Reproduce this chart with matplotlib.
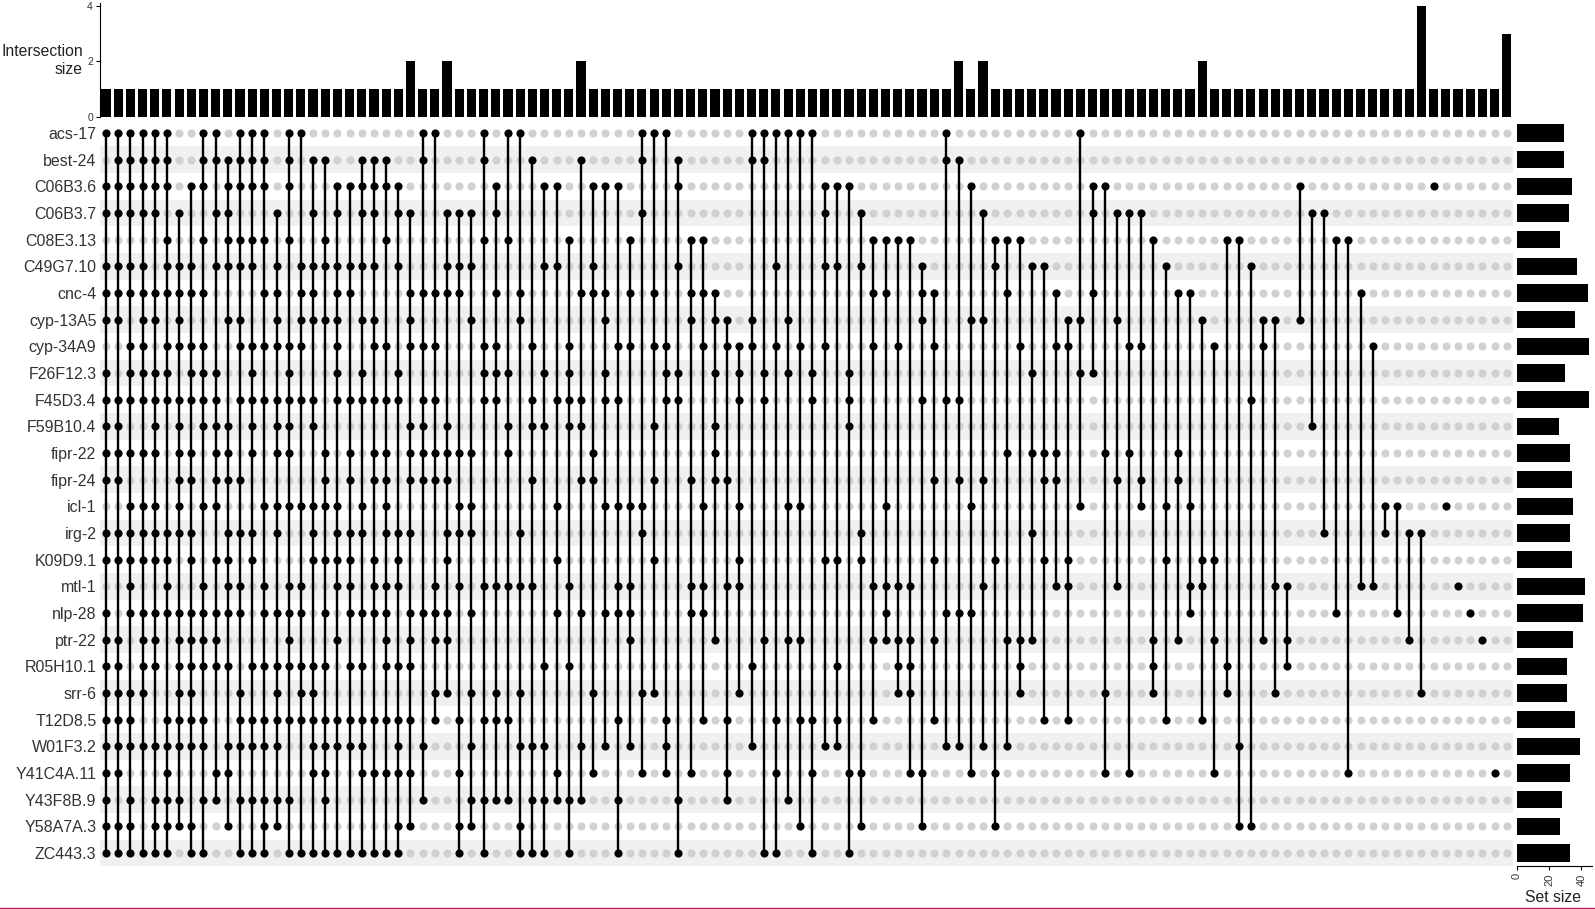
import matplotlib.pyplot as plt
from matplotlib.lines import Line2D
import numpy as np

plt.rcParams['font.family'] = ['Liberation Sans', 'DejaVu Sans']

sets = ["acs-17", "best-24", "C06B3.6", "C06B3.7", "C08E3.13", "C49G7.10", "cnc-4",
        "cyp-13A5", "cyp-34A9", "F26F12.3", "F45D3.4", "F59B10.4", "fipr-22", "fipr-24",
        "icl-1", "irg-2", "K09D9.1", "mtl-1", "nlp-28", "ptr-22", "R05H10.1", "srr-6",
        "T12D8.5", "W01F3.2", "Y41C4A.11", "Y43F8B.9", "Y58A7A.3", "ZC443.3"]
set_sizes = [29, 29, 34, 32, 27, 37, 44, 36, 45, 30, 45, 26, 33, 34, 35, 33, 34, 42,
             41, 35, 31, 31, 36, 39, 33, 28, 27, 33]

# intersection sizes, left to right
inter_sizes = [1] * 25 + [2, 1, 1, 2] + [1] * 10 + [2] + [1] * 30 + [2, 1, 2] \
    + [1] * 17 + [2] + [1] * 17 + [4] + [1] * 6 + [3]

# set indices (rows) in each intersection, left to right
members = [
    [0, 2, 3, 5, 6, 7, 9, 10, 11, 12, 13, 15, 16, 18, 19, 20, 21, 22, 23, 24, 25, 26, 27],
    [0, 1, 2, 3, 5, 6, 7, 10, 11, 12, 13, 15, 16, 19, 20, 21, 22, 23, 24, 26, 27],
    [0, 1, 2, 3, 5, 6, 8, 9, 10, 12, 14, 15, 16, 17, 18, 21, 22, 23, 25, 26, 27],
    [0, 1, 2, 3, 5, 6, 7, 8, 9, 10, 12, 14, 15, 16, 18, 19, 20, 21, 23, 27],
    [0, 1, 2, 3, 6, 7, 9, 10, 11, 12, 14, 15, 16, 18, 19, 20, 23, 25, 26, 27],
    [0, 1, 2, 4, 5, 6, 8, 9, 10, 15, 16, 17, 18, 22, 23, 24, 25, 26, 27],
    [3, 5, 6, 7, 8, 10, 11, 12, 13, 14, 15, 18, 19, 20, 21, 22, 23, 25, 26],
    [2, 5, 6, 8, 9, 10, 12, 13, 15, 16, 18, 19, 20, 21, 22, 23, 26, 27],
    [0, 1, 2, 4, 6, 8, 9, 10, 11, 14, 17, 18, 19, 20, 22, 23, 25, 27],
    [0, 1, 3, 5, 9, 10, 11, 12, 13, 14, 16, 18, 19, 20, 24, 25],
    [1, 2, 3, 4, 5, 7, 11, 12, 13, 15, 16, 17, 18, 20, 23, 24, 26],
    [0, 1, 2, 4, 5, 7, 8, 10, 13, 15, 17, 18, 21, 22, 23, 25, 27],
    [0, 1, 2, 4, 5, 8, 9, 10, 11, 12, 15, 16, 20, 22, 23, 25, 27],
    [0, 1, 2, 4, 6, 8, 10, 14, 17, 18, 20, 22, 23, 25, 26, 27],
    [3, 5, 6, 7, 8, 10, 11, 12, 14, 15, 18, 20, 21, 22, 23, 25, 26],
    [0, 1, 2, 4, 8, 9, 10, 11, 12, 14, 17, 18, 19, 20, 22, 25, 27],
    [0, 5, 6, 7, 8, 10, 14, 17, 18, 20, 21, 22, 27],
    [1, 3, 5, 6, 7, 10, 11, 14, 15, 16, 20, 21, 22, 23, 24, 27],
    [1, 4, 5, 7, 12, 13, 14, 16, 18, 20, 22, 23, 24, 25, 27],
    [2, 3, 5, 6, 7, 8, 9, 10, 14, 15, 16, 17, 19, 22, 23, 27],
    [2, 5, 6, 10, 12, 13, 15, 16, 17, 18, 20, 22, 23, 27],
    [1, 2, 3, 5, 7, 9, 10, 14, 15, 18, 20, 22, 23, 24, 27],
    [1, 2, 3, 5, 7, 8, 10, 12, 13, 16, 17, 18, 22, 24, 27],
    [1, 2, 4, 8, 10, 12, 13, 14, 15, 17, 18, 19, 20, 22, 24, 27],
    [2, 3, 5, 9, 10, 15, 16, 17, 20, 22, 23, 24, 26, 27],
    [3, 6, 7, 8, 11, 12, 13, 15, 18, 19, 20, 22, 24, 26],
    [0, 1, 6, 8, 10, 11, 12, 13, 18, 23, 25],
    [0, 6, 8, 10, 12, 13, 17, 18, 19, 21, 22],
    [3, 5, 6, 11, 12, 13, 15, 16, 18, 19, 21],
    [3, 5, 6, 12, 14, 15, 17, 22, 24, 26, 27],
    [3, 5, 7, 12, 14, 15, 18, 21, 23, 25, 26],
    [0, 1, 4, 8, 9, 10, 17, 22, 25, 27],
    [2, 3, 6, 8, 9, 10, 17, 21, 22, 25],
    [0, 4, 9, 11, 12, 17, 22, 25],
    [0, 6, 7, 15, 17, 21, 23, 26, 27],
    [1, 8, 10, 11, 13, 17, 23, 25, 27],
    [2, 5, 9, 11, 20, 23, 25, 27],
    [2, 5, 10, 14, 16, 18, 24, 25],
    [4, 8, 9, 10, 11, 17, 20, 25, 27],
    [1, 6, 10, 11, 13, 18, 23, 25],
    [2, 5, 6, 12, 13, 21, 24],
    [2, 6, 7, 9, 10, 14, 18, 23],
    [2, 8, 10, 14, 17, 18, 22, 25, 27],
    [4, 6, 8, 14, 17, 18, 19, 23],
    [0, 1, 3, 14, 15, 21, 24],
    [0, 6, 8, 11, 13, 16, 21],
    [0, 8, 9, 10, 22, 23, 24],
    [1, 2, 5, 9, 10, 25, 27],
    [4, 6, 7, 13, 17, 18, 24],
    [4, 6, 8, 14, 17, 18, 22],
    [6, 7, 9, 11, 12, 13, 19],
    [7, 8, 13, 17, 22, 24, 25],
    [8, 9, 10, 14, 16, 17, 21],
    [0, 1, 7, 8, 20, 23],
    [0, 1, 9, 10, 19, 27],
    [0, 5, 8, 22, 24, 27],
    [0, 7, 9, 14, 19, 25],
    [0, 8, 14, 19, 22, 26],
    [0, 9, 10, 22, 24, 27],
    [2, 3, 5, 8, 16, 23],
    [2, 5, 16, 20, 22, 23],
    [2, 9, 10, 11, 24, 27],
    [3, 5, 15, 16, 24, 26],
    [4, 6, 8, 17, 19, 22],
    [4, 6, 14, 17, 18, 19],
    [4, 8, 17, 19, 20, 21],
    [4, 17, 19, 20, 21, 24],
    [5, 6, 7, 10, 24, 26],
    [6, 8, 13, 16, 19, 22],
    [0, 1, 10, 18, 23],
    [1, 10, 13, 18, 23],
    [2, 7, 14, 18, 24],
    [3, 7, 13, 17, 23],
    [4, 5, 16, 24, 26],
    [4, 6, 12, 19, 23],
    [4, 8, 19, 20, 21],
    [5, 9, 12, 15, 19],
    [5, 12, 13, 16, 22],
    [6, 8, 12, 13, 17],
    [7, 8, 16, 17, 22],
    [0, 7, 9, 14],
    [2, 3, 6, 9],
    [2, 12, 21, 24],
    [3, 7, 13, 17],
    [3, 8, 12, 24],
    [3, 8, 13, 14],
    [4, 19, 20, 21],
    [5, 14, 16, 22],
    [6, 12, 13, 19],
    [6, 14, 17, 18],
    [7, 16, 17, 22],
    [8, 16, 19, 24],
    [4, 20, 21],
    [4, 23, 26],
    [5, 10, 26],
    [7, 8, 19],
    [7, 17, 21],
    [17, 19, 20],
    [2, 7],
    [3, 11],
    [3, 15],
    [4, 18],
    [4, 24],
    [6, 17],
    [8, 17],
    [14, 15],
    [14, 18],
    [15, 19],
    [15, 21],
    [2],
    [14],
    [17],
    [18],
    [19],
    [24],
    [],
]

W, H = 1595, 909
fig = plt.figure(figsize=(W / 100, H / 100), dpi=100)


def px_axes(x0, y0, x1, y1):
    return fig.add_axes([x0 / W, 1 - y1 / H, (x1 - x0) / W, (y1 - y0) / H])


n = len(inter_sizes)
nset = len(sets)
label_col = '#333333'
dot = 34

# matrix
ax_m = px_axes(99.9, 119.7, 1512.8, 866.4)
ax_m.set_xlim(-0.5, n - 0.5)
ax_m.set_ylim(nset - 0.5, -0.5)
for r in range(1, nset, 2):
    ax_m.axhspan(r - 0.5, r + 0.5, color='#F0F0F0', lw=0, zorder=0)
xx, yy = np.meshgrid(np.arange(n), np.arange(nset))
ax_m.scatter(xx.ravel(), yy.ravel(), s=dot, color='#D0D0D0', lw=0, zorder=1)
for k, rows in enumerate(members):
    if not rows:
        continue
    if len(rows) > 1:
        ax_m.vlines(k, min(rows), max(rows), color='black', lw=1.7, zorder=2)
    ax_m.scatter([k] * len(rows), rows, s=dot, color='black', lw=0, zorder=3)
ax_m.set_yticks(range(nset))
ax_m.set_yticklabels(sets, fontsize=11.5, color=label_col)
ax_m.set_xticks([])
ax_m.tick_params(axis='y', length=0, pad=2.5)
for s in ax_m.spines.values():
    s.set_visible(False)

# intersection size bars
ax_b = px_axes(99.9, 3.1, 1512.8, 116.7)
ax_b.bar(range(n), inter_sizes, width=0.75, color='black')
ax_b.set_xlim(-0.5, n - 0.5)
ax_b.set_ylim(0, 4.1)
ax_b.set_yticks([0, 2, 4])
ax_b.tick_params(axis='y', labelsize=7.5, length=3, width=0.8, pad=2, labelcolor=label_col)
ax_b.set_xticks([])
for name in ['top', 'right', 'bottom']:
    ax_b.spines[name].set_visible(False)
ax_b.spines['left'].set_linewidth(0.8)
fig.text(83 / W, 1 - 60 / H, "Intersection\nsize", ha='right', va='center',
         multialignment='right', fontsize=11.3, color='#222222', linespacing=1.25)

# set size bars
ax_s = px_axes(1517, 119.7, 1591.7, 866.4)
ax_s.barh(range(nset), set_sizes, height=0.65, color='black')
ax_s.set_ylim(nset - 0.5, -0.5)
ax_s.set_xlim(0, 46.4)
ax_s.set_yticks([])
ax_s.set_xticks([0, 20, 40])
ax_s.set_xticklabels(['0', '20', '40'], rotation=90)
ax_s.tick_params(axis='x', labelsize=8, length=3, width=0.8, pad=2, labelcolor=label_col)
for name in ['top', 'right', 'left']:
    ax_s.spines[name].set_visible(False)
ax_s.spines['bottom'].set_linewidth(0.8)
fig.text(1553 / W, 1 - 897 / H, "Set size", ha='center', va='center',
         fontsize=11.3, color='#222222')

fig.add_artist(Line2D([0, 1], [1 - 908 / H] * 2, color='#C8185A', lw=1))

fig.savefig('out.png', dpi=100)
